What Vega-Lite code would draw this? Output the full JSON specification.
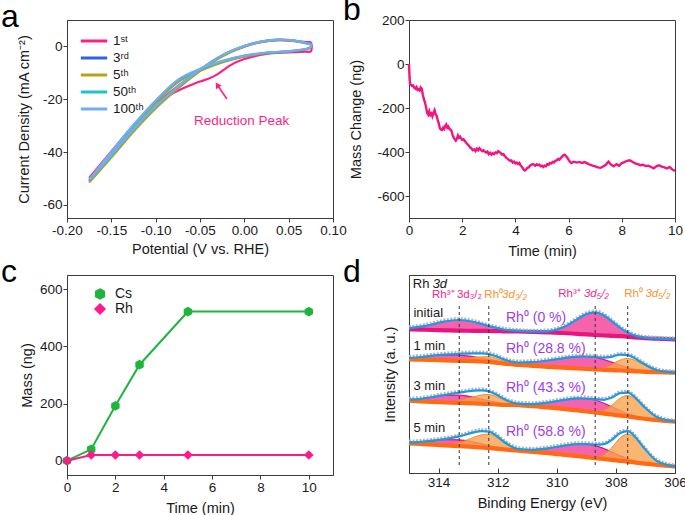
{
"$schema": "https://vega.github.io/schema/vega-lite/v6.json",
"padding": {"left": 0, "top": -7, "right": 2, "bottom": 0},
"background": "white",
"config": {
  "font": "Liberation Sans",
  "view": {"stroke": "#3c3c3c", "strokeWidth": 1},
  "axis": {"grid": false, "labelFont": "Liberation Sans", "titleFont": "Liberation Sans", "labelFontSize": 13.5, "titleFontSize": 14.5, "titleFontWeight": "normal", "labelColor": "#1a1a1a", "titleColor": "#1a1a1a", "tickColor": "#3c3c3c", "domainColor": "#3c3c3c", "tickSize": 4, "labelPadding": 1, "labelFlush": false, "labelOverlap": false},
  "title": {"font": "Liberation Sans", "fontSize": 32, "fontWeight": "normal", "anchor": "start", "frame": "group", "dx": -66, "offset": -14, "baseline": "alphabetic", "color": "#000"},
  "legend": {"labelFont": "Liberation Sans", "labelFontSize": 13.5, "labelColor": "#1a1a1a", "padding": 0}
},
"datasets": {
  "cv": [
    {"c":"1ˢᵗ","i":1,"v":-0.175,"j":-49.8},{"c":"1ˢᵗ","i":2,"v":-0.15,"j":-40.5},{"c":"1ˢᵗ","i":3,"v":-0.125,"j":-30.8},{"c":"1ˢᵗ","i":4,"v":-0.1,"j":-22.0},{"c":"1ˢᵗ","i":5,"v":-0.075,"j":-15.0},{"c":"1ˢᵗ","i":6,"v":-0.05,"j":-8.8},{"c":"1ˢᵗ","i":7,"v":-0.025,"j":-3.5},{"c":"1ˢᵗ","i":8,"v":0,"j":0.0},{"c":"1ˢᵗ","i":9,"v":0.02,"j":1.7},{"c":"1ˢᵗ","i":10,"v":0.038,"j":2.4},{"c":"1ˢᵗ","i":11,"v":0.055,"j":2.1},{"c":"1ˢᵗ","i":12,"v":0.07,"j":1.6},{"c":"1ˢᵗ","i":13,"v":0.075,"j":1.5},
    {"c":"1ˢᵗ","i":14,"v":0.075,"j":-1.9},{"c":"1ˢᵗ","i":15,"v":0.07,"j":-2.0},{"c":"1ˢᵗ","i":16,"v":0.05,"j":-2.3},{"c":"1ˢᵗ","i":17,"v":0.025,"j":-2.8},{"c":"1ˢᵗ","i":18,"v":0,"j":-4.8},{"c":"1ˢᵗ","i":19,"v":-0.015,"j":-7.0},{"c":"1ˢᵗ","i":20,"v":-0.03,"j":-10.5},{"c":"1ˢᵗ","i":21,"v":-0.04,"j":-12.2},{"c":"1ˢᵗ","i":22,"v":-0.05,"j":-13.3},{"c":"1ˢᵗ","i":23,"v":-0.06,"j":-14.6},{"c":"1ˢᵗ","i":24,"v":-0.075,"j":-16.8},{"c":"1ˢᵗ","i":25,"v":-0.1,"j":-21.6},{"c":"1ˢᵗ","i":26,"v":-0.125,"j":-30.0},{"c":"1ˢᵗ","i":27,"v":-0.15,"j":-39.8},{"c":"1ˢᵗ","i":28,"v":-0.175,"j":-49.8},
    {"c":"3ʳᵈ","i":1,"v":-0.175,"j":-51.0},{"c":"3ʳᵈ","i":2,"v":-0.15,"j":-41.6},{"c":"3ʳᵈ","i":3,"v":-0.125,"j":-31.8},{"c":"3ʳᵈ","i":4,"v":-0.1,"j":-23.0},{"c":"3ʳᵈ","i":5,"v":-0.075,"j":-15.6},{"c":"3ʳᵈ","i":6,"v":-0.05,"j":-9.0},{"c":"3ʳᵈ","i":7,"v":-0.025,"j":-3.5},{"c":"3ʳᵈ","i":8,"v":0,"j":0.0},{"c":"3ʳᵈ","i":9,"v":0.02,"j":1.8},{"c":"3ʳᵈ","i":10,"v":0.038,"j":2.5},{"c":"3ʳᵈ","i":11,"v":0.055,"j":2.2},{"c":"3ʳᵈ","i":12,"v":0.07,"j":1.2},{"c":"3ʳᵈ","i":13,"v":0.075,"j":0.7},
    {"c":"3ʳᵈ","i":14,"v":0.075,"j":-0.3},{"c":"3ʳᵈ","i":15,"v":0.07,"j":-1.0},{"c":"3ʳᵈ","i":16,"v":0.05,"j":-1.9},{"c":"3ʳᵈ","i":17,"v":0.025,"j":-2.5},{"c":"3ʳᵈ","i":18,"v":0,"j":-3.7},{"c":"3ʳᵈ","i":19,"v":-0.025,"j":-5.8},{"c":"3ʳᵈ","i":20,"v":-0.05,"j":-8.9},{"c":"3ʳᵈ","i":21,"v":-0.075,"j":-13.2},{"c":"3ʳᵈ","i":22,"v":-0.1,"j":-21.0},{"c":"3ʳᵈ","i":23,"v":-0.125,"j":-30.2},{"c":"3ʳᵈ","i":24,"v":-0.15,"j":-40.4},{"c":"3ʳᵈ","i":25,"v":-0.175,"j":-51.0},
    {"c":"5ᵗʰ","i":1,"v":-0.175,"j":-51.6},{"c":"5ᵗʰ","i":2,"v":-0.15,"j":-42.1},{"c":"5ᵗʰ","i":3,"v":-0.125,"j":-32.3},{"c":"5ᵗʰ","i":4,"v":-0.1,"j":-23.5},{"c":"5ᵗʰ","i":5,"v":-0.075,"j":-16.0},{"c":"5ᵗʰ","i":6,"v":-0.05,"j":-9.4},{"c":"5ᵗʰ","i":7,"v":-0.025,"j":-3.8},{"c":"5ᵗʰ","i":8,"v":0,"j":-0.1},{"c":"5ᵗʰ","i":9,"v":0.02,"j":1.7},{"c":"5ᵗʰ","i":10,"v":0.038,"j":2.4},{"c":"5ᵗʰ","i":11,"v":0.055,"j":2.1},{"c":"5ᵗʰ","i":12,"v":0.07,"j":1.1},{"c":"5ᵗʰ","i":13,"v":0.075,"j":0.6},
    {"c":"5ᵗʰ","i":14,"v":0.075,"j":-0.4},{"c":"5ᵗʰ","i":15,"v":0.07,"j":-1.1},{"c":"5ᵗʰ","i":16,"v":0.05,"j":-2.0},{"c":"5ᵗʰ","i":17,"v":0.025,"j":-2.6},{"c":"5ᵗʰ","i":18,"v":0,"j":-3.9},{"c":"5ᵗʰ","i":19,"v":-0.025,"j":-6.1},{"c":"5ᵗʰ","i":20,"v":-0.05,"j":-9.3},{"c":"5ᵗʰ","i":21,"v":-0.075,"j":-13.6},{"c":"5ᵗʰ","i":22,"v":-0.1,"j":-21.5},{"c":"5ᵗʰ","i":23,"v":-0.125,"j":-30.7},{"c":"5ᵗʰ","i":24,"v":-0.15,"j":-41.0},{"c":"5ᵗʰ","i":25,"v":-0.175,"j":-51.6},
    {"c":"50ᵗʰ","i":1,"v":-0.175,"j":-50.8},{"c":"50ᵗʰ","i":2,"v":-0.15,"j":-41.4},{"c":"50ᵗʰ","i":3,"v":-0.125,"j":-31.6},{"c":"50ᵗʰ","i":4,"v":-0.1,"j":-22.8},{"c":"50ᵗʰ","i":5,"v":-0.075,"j":-15.4},{"c":"50ᵗʰ","i":6,"v":-0.05,"j":-8.8},{"c":"50ᵗʰ","i":7,"v":-0.025,"j":-3.4},{"c":"50ᵗʰ","i":8,"v":0,"j":0.1},{"c":"50ᵗʰ","i":9,"v":0.02,"j":1.9},{"c":"50ᵗʰ","i":10,"v":0.038,"j":2.6},{"c":"50ᵗʰ","i":11,"v":0.055,"j":2.3},{"c":"50ᵗʰ","i":12,"v":0.07,"j":1.3},{"c":"50ᵗʰ","i":13,"v":0.075,"j":0.8},
    {"c":"50ᵗʰ","i":14,"v":0.075,"j":-0.3},{"c":"50ᵗʰ","i":15,"v":0.07,"j":-1.0},{"c":"50ᵗʰ","i":16,"v":0.05,"j":-1.9},{"c":"50ᵗʰ","i":17,"v":0.025,"j":-2.4},{"c":"50ᵗʰ","i":18,"v":0,"j":-3.6},{"c":"50ᵗʰ","i":19,"v":-0.025,"j":-5.7},{"c":"50ᵗʰ","i":20,"v":-0.05,"j":-8.7},{"c":"50ᵗʰ","i":21,"v":-0.075,"j":-13.0},{"c":"50ᵗʰ","i":22,"v":-0.1,"j":-20.8},{"c":"50ᵗʰ","i":23,"v":-0.125,"j":-30.0},{"c":"50ᵗʰ","i":24,"v":-0.15,"j":-40.2},{"c":"50ᵗʰ","i":25,"v":-0.175,"j":-50.8},
    {"c":"100ᵗʰ","i":1,"v":-0.175,"j":-50.5},{"c":"100ᵗʰ","i":2,"v":-0.15,"j":-41.2},{"c":"100ᵗʰ","i":3,"v":-0.125,"j":-31.4},{"c":"100ᵗʰ","i":4,"v":-0.1,"j":-22.6},{"c":"100ᵗʰ","i":5,"v":-0.075,"j":-15.2},{"c":"100ᵗʰ","i":6,"v":-0.05,"j":-8.7},{"c":"100ᵗʰ","i":7,"v":-0.025,"j":-3.3},{"c":"100ᵗʰ","i":8,"v":0,"j":0.2},{"c":"100ᵗʰ","i":9,"v":0.02,"j":1.9},{"c":"100ᵗʰ","i":10,"v":0.038,"j":2.6},{"c":"100ᵗʰ","i":11,"v":0.055,"j":2.3},{"c":"100ᵗʰ","i":12,"v":0.07,"j":1.3},{"c":"100ᵗʰ","i":13,"v":0.075,"j":0.8},
    {"c":"100ᵗʰ","i":14,"v":0.075,"j":-0.2},{"c":"100ᵗʰ","i":15,"v":0.07,"j":-0.9},{"c":"100ᵗʰ","i":16,"v":0.05,"j":-1.8},{"c":"100ᵗʰ","i":17,"v":0.025,"j":-2.3},{"c":"100ᵗʰ","i":18,"v":0,"j":-3.5},{"c":"100ᵗʰ","i":19,"v":-0.025,"j":-5.5},{"c":"100ᵗʰ","i":20,"v":-0.05,"j":-8.5},{"c":"100ᵗʰ","i":21,"v":-0.075,"j":-12.7},{"c":"100ᵗʰ","i":22,"v":-0.1,"j":-20.5},{"c":"100ᵗʰ","i":23,"v":-0.125,"j":-29.7},{"c":"100ᵗʰ","i":24,"v":-0.15,"j":-39.9},{"c":"100ᵗʰ","i":25,"v":-0.175,"j":-50.5}
  ],
  "arrow": [{"x1": -0.0196, "y1": -19.9, "x2": -0.0305, "y2": -14.6}],
  "qcm": [
    {"t":0,"m":0},{"t":0.02,"m":-60},{"t":0.04,"m":-90},{"t":0.08,"m":-95},{"t":0.12,"m":-100},{"t":0.16,"m":-98},{"t":0.2,"m":-108},{"t":0.24,"m":-112},{"t":0.28,"m":-105},{"t":0.32,"m":-118},{"t":0.36,"m":-115},{"t":0.4,"m":-120},{"t":0.44,"m":-106},{"t":0.48,"m":-112},{"t":0.52,"m":-140},{"t":0.56,"m":-160},{"t":0.6,"m":-175},{"t":0.64,"m":-195},{"t":0.68,"m":-222},{"t":0.72,"m":-230},{"t":0.76,"m":-215},{"t":0.8,"m":-232},{"t":0.84,"m":-225},{"t":0.88,"m":-238},{"t":0.92,"m":-222},{"t":0.96,"m":-210},{"t":1.0,"m":-228},{"t":1.04,"m":-236},{"t":1.08,"m":-255},{"t":1.12,"m":-270},{"t":1.16,"m":-292},{"t":1.2,"m":-298},{"t":1.24,"m":-300},{"t":1.28,"m":-290},{"t":1.32,"m":-296},{"t":1.36,"m":-282},{"t":1.4,"m":-275},{"t":1.44,"m":-290},{"t":1.48,"m":-285},{"t":1.52,"m":-296},{"t":1.56,"m":-298},{"t":1.6,"m":-305},{"t":1.64,"m":-322},{"t":1.68,"m":-335},{"t":1.72,"m":-342},{"t":1.76,"m":-348},{"t":1.8,"m":-340},{"t":1.84,"m":-325},{"t":1.88,"m":-335},{"t":1.92,"m":-330},{"t":1.96,"m":-338},{"t":2.0,"m":-345},{"t":2.05,"m":-342},{"t":2.1,"m":-350},{"t":2.15,"m":-358},{"t":2.2,"m":-365},{"t":2.25,"m":-372},{"t":2.3,"m":-380},{"t":2.35,"m":-384},{"t":2.4,"m":-392},{"t":2.45,"m":-388},{"t":2.5,"m":-396},{"t":2.55,"m":-385},{"t":2.6,"m":-392},{"t":2.65,"m":-383},{"t":2.7,"m":-390},{"t":2.75,"m":-396},{"t":2.8,"m":-392},{"t":2.85,"m":-398},{"t":2.9,"m":-402},{"t":2.95,"m":-398},{"t":3.0,"m":-410},{"t":3.05,"m":-404},{"t":3.1,"m":-412},{"t":3.15,"m":-406},{"t":3.2,"m":-410},{"t":3.25,"m":-402},{"t":3.3,"m":-405},{"t":3.35,"m":-396},{"t":3.4,"m":-400},{"t":3.45,"m":-405},{"t":3.5,"m":-412},{"t":3.55,"m":-410},{"t":3.6,"m":-418},{"t":3.65,"m":-426},{"t":3.7,"m":-430},{"t":3.75,"m":-436},{"t":3.8,"m":-440},{"t":3.85,"m":-438},{"t":3.9,"m":-448},{"t":3.95,"m":-444},{"t":4.0,"m":-452},{"t":4.05,"m":-448},{"t":4.1,"m":-455},{"t":4.15,"m":-450},{"t":4.2,"m":-462},{"t":4.25,"m":-468},{"t":4.3,"m":-478},{"t":4.35,"m":-484},{"t":4.4,"m":-480},{"t":4.45,"m":-472},{"t":4.5,"m":-470},{"t":4.55,"m":-462},{"t":4.6,"m":-458},{"t":4.65,"m":-455},{"t":4.7,"m":-458},{"t":4.75,"m":-462},{"t":4.8,"m":-456},{"t":4.85,"m":-460},{"t":4.9,"m":-458},{"t":4.95,"m":-465},{"t":5.0,"m":-462},{"t":5.05,"m":-468},{"t":5.1,"m":-462},{"t":5.15,"m":-465},{"t":5.2,"m":-455},{"t":5.25,"m":-458},{"t":5.3,"m":-450},{"t":5.35,"m":-452},{"t":5.4,"m":-445},{"t":5.45,"m":-448},{"t":5.5,"m":-440},{"t":5.55,"m":-438},{"t":5.6,"m":-432},{"t":5.65,"m":-435},{"t":5.7,"m":-428},{"t":5.75,"m":-422},{"t":5.8,"m":-415},{"t":5.85,"m":-412},{"t":5.9,"m":-418},{"t":5.95,"m":-426},{"t":6.0,"m":-436},{"t":6.05,"m":-444},{"t":6.1,"m":-450},{"t":6.2,"m":-444},{"t":6.3,"m":-448},{"t":6.4,"m":-445},{"t":6.5,"m":-450},{"t":6.6,"m":-446},{"t":6.7,"m":-452},{"t":6.8,"m":-458},{"t":6.9,"m":-462},{"t":7.0,"m":-465},{"t":7.1,"m":-470},{"t":7.2,"m":-472},{"t":7.3,"m":-466},{"t":7.4,"m":-458},{"t":7.45,"m":-450},{"t":7.5,"m":-444},{"t":7.55,"m":-452},{"t":7.6,"m":-458},{"t":7.7,"m":-465},{"t":7.8,"m":-455},{"t":7.9,"m":-462},{"t":8.0,"m":-450},{"t":8.1,"m":-446},{"t":8.2,"m":-440},{"t":8.3,"m":-438},{"t":8.4,"m":-444},{"t":8.5,"m":-452},{"t":8.6,"m":-455},{"t":8.7,"m":-460},{"t":8.8,"m":-458},{"t":8.9,"m":-464},{"t":9.0,"m":-462},{"t":9.1,"m":-468},{"t":9.2,"m":-474},{"t":9.3,"m":-465},{"t":9.4,"m":-460},{"t":9.5,"m":-466},{"t":9.6,"m":-470},{"t":9.7,"m":-475},{"t":9.8,"m":-468},{"t":9.9,"m":-480},{"t":10.0,"m":-486}
  ],
  "mass": [
    {"el":"Cs","t":0,"m":0},{"el":"Cs","t":1,"m":40},{"el":"Cs","t":2,"m":192},{"el":"Cs","t":3,"m":336},{"el":"Cs","t":5,"m":522},{"el":"Cs","t":10,"m":522},
    {"el":"Rh","t":0,"m":0},{"el":"Rh","t":1,"m":20},{"el":"Rh","t":2,"m":20},{"el":"Rh","t":3,"m":20},{"el":"Rh","t":5,"m":20},{"el":"Rh","t":10,"m":20}
  ],
  "xps": [
    {"s":"initial","x":315,"bg":143.7,"pk":144.8,"og":143.7,"env":144.8},{"s":"initial","x":314.6,"bg":143.4,"pk":146.3,"og":143.4,"env":146.3},{"s":"initial","x":314.2,"bg":143.0,"pk":148.7,"og":143.0,"env":148.7},{"s":"initial","x":313.8,"bg":142.7,"pk":151.5,"og":142.7,"env":151.5},{"s":"initial","x":313.3,"bg":142.3,"pk":153.0,"og":142.3,"env":153.0},{"s":"initial","x":312.8,"bg":142.2,"pk":151.0,"og":142.2,"env":151.0},{"s":"initial","x":312.55,"bg":142.1,"pk":149.0,"og":142.1,"env":149.0},{"s":"initial","x":312.3,"bg":142.0,"pk":146.9,"og":142.0,"env":146.9},{"s":"initial","x":312.05,"bg":141.9,"pk":145.1,"og":141.9,"env":145.1},{"s":"initial","x":311.8,"bg":141.7,"pk":143.5,"og":141.7,"env":143.5},{"s":"initial","x":311.3,"bg":141.5,"pk":142.0,"og":141.5,"env":142.0},{"s":"initial","x":310.8,"bg":141.1,"pk":141.3,"og":141.1,"env":141.3},{"s":"initial","x":310.3,"bg":140.6,"pk":141.7,"og":140.6,"env":141.7},{"s":"initial","x":309.8,"bg":140.0,"pk":145.4,"og":140.0,"env":145.4},{"s":"initial","x":309.3,"bg":139.1,"pk":153.9,"og":139.1,"env":153.9},{"s":"initial","x":309.0,"bg":138.6,"pk":159.0,"og":138.6,"env":159.0},{"s":"initial","x":308.7,"bg":138.0,"pk":160.7,"og":138.0,"env":160.7},{"s":"initial","x":308.4,"bg":137.5,"pk":157.5,"og":137.5,"env":157.5},{"s":"initial","x":308.15,"bg":137.2,"pk":152.1,"og":137.2,"env":152.1},{"s":"initial","x":307.85,"bg":136.8,"pk":145.1,"og":136.8,"env":145.1},{"s":"initial","x":307.6,"bg":136.3,"pk":140.5,"og":136.3,"env":140.5},{"s":"initial","x":307.35,"bg":135.6,"pk":137.4,"og":135.6,"env":137.4},{"s":"initial","x":307.1,"bg":135.0,"pk":135.6,"og":135.0,"env":135.6},{"s":"initial","x":306.6,"bg":134.3,"pk":134.3,"og":134.3,"env":134.3},{"s":"initial","x":306,"bg":133.7,"pk":133.7,"og":133.7,"env":133.7},
    {"s":"1 min","x":315,"bg":113.7,"pk":115.1,"og":113.7,"env":115.1},{"s":"1 min","x":314.6,"bg":113.3,"pk":116.0,"og":113.3,"env":116.0},{"s":"1 min","x":314.2,"bg":113.0,"pk":117.3,"og":113.0,"env":117.3},{"s":"1 min","x":313.8,"bg":112.6,"pk":118.1,"og":112.8,"env":118.3},{"s":"1 min","x":313.3,"bg":112.2,"pk":117.9,"og":113.5,"env":119.2},{"s":"1 min","x":312.8,"bg":111.8,"pk":116.1,"og":115.4,"env":119.7},{"s":"1 min","x":312.55,"bg":111.5,"pk":114.9,"og":116.2,"env":119.6},{"s":"1 min","x":312.3,"bg":111.2,"pk":113.8,"og":116.3,"env":118.9},{"s":"1 min","x":312.05,"bg":110.3,"pk":112.3,"og":114.6,"env":116.6},{"s":"1 min","x":311.8,"bg":109.4,"pk":111.1,"og":111.9,"env":113.6},{"s":"1 min","x":311.3,"bg":108.2,"pk":110.2,"og":108.5,"env":110.5},{"s":"1 min","x":310.8,"bg":107.2,"pk":110.9,"og":107.2,"env":110.9},{"s":"1 min","x":310.3,"bg":106.2,"pk":112.5,"og":106.2,"env":112.5},{"s":"1 min","x":309.8,"bg":105.3,"pk":114.7,"og":105.3,"env":114.7},{"s":"1 min","x":309.3,"bg":104.5,"pk":116.3,"og":104.5,"env":116.3},{"s":"1 min","x":309.0,"bg":104.0,"pk":116.5,"og":104.0,"env":116.5},{"s":"1 min","x":308.7,"bg":103.5,"pk":115.6,"og":103.9,"env":116.0},{"s":"1 min","x":308.4,"bg":103.1,"pk":113.4,"og":105.1,"env":115.4},{"s":"1 min","x":308.15,"bg":102.8,"pk":110.9,"og":108.1,"env":116.2},{"s":"1 min","x":307.85,"bg":102.5,"pk":107.8,"og":113.0,"env":118.3},{"s":"1 min","x":307.6,"bg":102.1,"pk":105.4,"og":114.6,"env":117.9},{"s":"1 min","x":307.35,"bg":101.7,"pk":103.6,"og":112.7,"env":114.6},{"s":"1 min","x":307.1,"bg":101.3,"pk":102.3,"og":108.9,"env":109.9},{"s":"1 min","x":306.6,"bg":100.8,"pk":101.0,"og":102.5,"env":102.7},{"s":"1 min","x":306,"bg":100.3,"pk":100.3,"og":100.4,"env":100.4},
    {"s":"3 min","x":315,"bg":72.3,"pk":73.4,"og":72.3,"env":73.4},{"s":"3 min","x":314.6,"bg":71.6,"pk":74.2,"og":71.6,"env":74.2},{"s":"3 min","x":314.2,"bg":71.0,"pk":75.9,"og":71.1,"env":76.0},{"s":"3 min","x":313.8,"bg":70.5,"pk":77.6,"og":70.9,"env":78.0},{"s":"3 min","x":313.3,"bg":70.0,"pk":77.9,"og":72.4,"env":80.3},{"s":"3 min","x":312.8,"bg":69.6,"pk":75.6,"og":76.3,"env":82.3},{"s":"3 min","x":312.55,"bg":69.3,"pk":73.9,"og":78.0,"env":82.6},{"s":"3 min","x":312.3,"bg":69.0,"pk":72.1,"og":78.5,"env":81.6},{"s":"3 min","x":312.05,"bg":68.6,"pk":70.5,"og":76.6,"env":78.5},{"s":"3 min","x":311.8,"bg":68.2,"pk":69.5,"og":72.9,"env":74.2},{"s":"3 min","x":311.3,"bg":67.8,"pk":68.8,"og":68.4,"env":69.4},{"s":"3 min","x":310.8,"bg":66.8,"pk":68.9,"og":66.8,"env":68.9},{"s":"3 min","x":310.3,"bg":65.5,"pk":70.4,"og":65.5,"env":70.4},{"s":"3 min","x":309.8,"bg":64.2,"pk":72.9,"og":64.2,"env":72.9},{"s":"3 min","x":309.3,"bg":62.6,"pk":74.6,"og":62.6,"env":74.6},{"s":"3 min","x":309.0,"bg":61.5,"pk":74.4,"og":61.6,"env":74.5},{"s":"3 min","x":308.7,"bg":60.5,"pk":73.0,"og":61.2,"env":73.7},{"s":"3 min","x":308.4,"bg":59.4,"pk":69.8,"og":62.8,"env":73.2},{"s":"3 min","x":308.15,"bg":58.5,"pk":66.4,"og":67.4,"env":75.3},{"s":"3 min","x":307.85,"bg":57.4,"pk":62.3,"og":75.0,"env":79.9},{"s":"3 min","x":307.6,"bg":56.5,"pk":59.4,"og":77.5,"env":80.4},{"s":"3 min","x":307.35,"bg":55.5,"pk":57.0,"og":74.0,"env":75.5},{"s":"3 min","x":307.1,"bg":54.5,"pk":55.2,"og":67.2,"env":67.9},{"s":"3 min","x":306.6,"bg":52.8,"pk":52.9,"og":55.6,"env":55.7},{"s":"3 min","x":306,"bg":51.3,"pk":51.3,"og":51.4,"env":51.4},
    {"s":"5 min","x":315,"bg":29.7,"pk":30.6,"og":29.7,"env":30.6},{"s":"5 min","x":314.6,"bg":29.0,"pk":31.1,"og":29.0,"env":31.1},{"s":"5 min","x":314.2,"bg":28.3,"pk":32.2,"og":28.4,"env":32.3},{"s":"5 min","x":313.8,"bg":27.6,"pk":33.3,"og":28.2,"env":33.9},{"s":"5 min","x":313.3,"bg":26.8,"pk":33.2,"og":30.2,"env":36.6},{"s":"5 min","x":312.8,"bg":26.0,"pk":30.9,"og":35.8,"env":40.7},{"s":"5 min","x":312.55,"bg":25.5,"pk":29.2,"og":38.2,"env":41.9},{"s":"5 min","x":312.3,"bg":25.0,"pk":27.5,"og":38.8,"env":41.3},{"s":"5 min","x":312.05,"bg":24.3,"pk":25.9,"og":35.9,"env":37.5},{"s":"5 min","x":311.8,"bg":23.6,"pk":24.7,"og":30.4,"env":31.5},{"s":"5 min","x":311.3,"bg":22.3,"pk":23.2,"og":23.1,"env":24.0},{"s":"5 min","x":310.8,"bg":21.1,"pk":23.2,"og":21.1,"env":23.2},{"s":"5 min","x":310.3,"bg":19.8,"pk":24.7,"og":19.8,"env":24.7},{"s":"5 min","x":309.8,"bg":18.4,"pk":27.1,"og":18.4,"env":27.1},{"s":"5 min","x":309.3,"bg":16.9,"pk":28.9,"og":16.9,"env":28.9},{"s":"5 min","x":309.0,"bg":15.9,"pk":28.8,"og":16.0,"env":28.9},{"s":"5 min","x":308.7,"bg":14.9,"pk":27.4,"og":15.8,"env":28.3},{"s":"5 min","x":308.4,"bg":14.0,"pk":24.4,"og":18.5,"env":28.9},{"s":"5 min","x":308.15,"bg":13.2,"pk":21.1,"og":24.9,"env":32.8},{"s":"5 min","x":307.85,"bg":12.2,"pk":17.1,"og":35.2,"env":40.1},{"s":"5 min","x":307.6,"bg":11.4,"pk":14.3,"og":38.9,"env":41.8},{"s":"5 min","x":307.35,"bg":10.5,"pk":12.0,"og":34.8,"env":36.3},{"s":"5 min","x":307.1,"bg":9.6,"pk":10.3,"og":26.3,"env":27.0},{"s":"5 min","x":306.6,"bg":8.0,"pk":8.1,"og":11.7,"env":11.8},{"s":"5 min","x":306,"bg":6.5,"pk":6.5,"og":6.7,"env":6.7}
  ],
  "peaks": [{"e":313.3},{"e":312.3},{"e":308.7},{"e":307.6}],
  "slabels": [{"x":314.85,"y":160.5,"t":"initial"},{"x":314.85,"y":127,"t":"1 min"},{"x":314.85,"y":87,"t":"3 min"},{"x":314.85,"y":45,"t":"5 min"}],
  "fractions": [{"x":311.72,"y":155.5,"t":"Rh⁰ (0 %)"},{"x":311.72,"y":124,"t":"Rh⁰ (28.8 %)"},{"x":311.72,"y":85,"t":"Rh⁰ (43.3 %)"},{"x":311.72,"y":41.5,"t":"Rh⁰ (58.8 %)"}],
  "plabels": [{"x":314.22,"y":178,"g":"Rh3+","t":"Rh³⁺"},{"x":313.38,"y":178,"g":"Rh3+","t":"3d₃/₂"},{"x":312.45,"y":178,"g":"Rh0","t":"Rh⁰"},{"x":309.95,"y":179,"g":"Rh3+","t":"Rh³⁺"},{"x":307.72,"y":179,"g":"Rh0","t":"Rh⁰"}],
  "pitalic": [{"x":311.85,"y":178,"g":"Rh0","t":"3d₃/₂"},{"x":309.08,"y":179,"g":"Rh3+","t":"3d₅/₂"},{"x":307.0,"y":179,"g":"Rh0","t":"3d₅/₂"}]
},
"columns": 2,
"spacing": {"row": 57, "column": 76},
"bounds": "flush",
"resolve": {"scale": {"color": "independent", "shape": "independent", "fill": "independent", "x": "independent", "y": "independent"}, "legend": {"color": "independent", "shape": "independent"}, "axis": {"x": "independent", "y": "independent"}},
"concat": [
      {
        "width": 266, "height": 198,
        "title": {"text": "a"},
        "layer": [
          {
            "data": {"name": "cv"},
            "mark": {"type": "line", "strokeWidth": 2.2, "interpolate": "catmull-rom"},
            "encoding": {
              "x": {"field": "v", "type": "quantitative", "scale": {"domain": [-0.2, 0.1], "nice": false, "zero": false},
                    "axis": {"title": "Potential (V vs. RHE)", "values": [-0.2, -0.15, -0.1, -0.05, 0, 0.05, 0.1], "format": ".2f", "labelExpr": "replace(datum.label, '−', '-')", "titlePadding": 6}},
              "y": {"field": "j", "type": "quantitative", "scale": {"domain": [-65, 10], "nice": false, "zero": false},
                    "axis": {"title": "Current Density (mA cm⁻²)", "values": [0, -20, -40, -60], "labelExpr": "replace(datum.label, '−', '-')", "titlePadding": 11}},
              "color": {"field": "c", "type": "nominal", "sort": null,
                        "scale": {"domain": ["1ˢᵗ", "3ʳᵈ", "5ᵗʰ", "50ᵗʰ", "100ᵗʰ"], "range": ["#ff1f84", "#2a66e0", "#b9a215", "#1fc4c8", "#74abf2"]},
                        "legend": {"title": null, "orient": "none", "legendX": 17, "legendY": 11, "symbolType": "M-1.55,0H1.55", "symbolSize": 289, "symbolStrokeWidth": 3, "rowPadding": 0, "labelOffset": 9, "labelFontSize": 13.5}},
              "order": {"field": "i", "type": "quantitative"}
            }
          },
          {
            "data": {"name": "arrow"},
            "mark": {"type": "rule", "color": "#ff1f84", "strokeWidth": 1.6},
            "encoding": {"x": {"field": "x1", "type": "quantitative"}, "y": {"field": "y1", "type": "quantitative"}, "x2": {"field": "x2"}, "y2": {"field": "y2"}}
          },
          {
            "data": {"name": "arrow"},
            "mark": {"type": "point", "shape": "triangle-up", "filled": true, "size": 45, "angle": -33.6, "color": "#ff1f84", "opacity": 1},
            "encoding": {"x": {"field": "x2", "type": "quantitative"}, "y": {"field": "y2", "type": "quantitative"}}
          },
          {
            "data": {"values": [{"v": -0.003, "j": -28.4, "t": "Reduction Peak"}]},
            "mark": {"type": "text", "color": "#ff1f84", "fontSize": 13.5, "font": "Liberation Sans"},
            "encoding": {"x": {"field": "v", "type": "quantitative"}, "y": {"field": "j", "type": "quantitative"}, "text": {"field": "t"}}
          }
        ]
      },
      {
        "width": 266, "height": 198,
        "title": {"text": "b"},
        "data": {"name": "qcm"},
        "mark": {"type": "line", "color": "#f2157f", "strokeWidth": 2.4},
        "encoding": {
          "x": {"field": "t", "type": "quantitative", "scale": {"domain": [0, 10], "nice": false},
                "axis": {"title": "Time (min)", "values": [0, 2, 4, 6, 8, 10], "titlePadding": 8}},
          "y": {"field": "m", "type": "quantitative", "scale": {"domain": [-700, 200], "nice": false},
                "axis": {"title": "Mass Change (ng)", "values": [200, 0, -200, -400, -600], "labelExpr": "replace(datum.label, '−', '-')", "titlePadding": 13}}
        }
      },
      {
        "width": 266, "height": 200,
        "title": {"text": "c"},
        "data": {"name": "mass"},
        "layer": [
          {
            "mark": {"type": "line", "strokeWidth": 2},
            "encoding": {
              "x": {"field": "t", "type": "quantitative", "scale": {"domain": [0, 11], "nice": false},
                    "axis": {"title": "Time (min)", "values": [0, 2, 4, 6, 8, 10], "titlePadding": 8}},
              "y": {"field": "m", "type": "quantitative", "scale": {"domain": [-50, 650], "nice": false},
                    "axis": {"title": "Mass (ng)", "values": [0, 100, 200, 300, 400, 500, 600], "titlePadding": 5}},
              "color": {"field": "el", "type": "nominal", "scale": {"domain": ["Cs", "Rh"], "range": ["#1db53c", "#ff1a8c"]},
                        "legend": {"title": null, "orient": "none", "legendX": 26, "legendY": 12, "symbolSize": 100, "labelFontSize": 14, "rowPadding": -2, "labelOffset": 8}}
            }
          },
          {
            "mark": {"type": "point", "filled": true, "size": 95, "opacity": 1},
            "encoding": {
              "x": {"field": "t", "type": "quantitative"},
              "y": {"field": "m", "type": "quantitative"},
              "color": {"field": "el", "type": "nominal", "legend": {"title": null, "orient": "none", "legendX": 26, "legendY": 12, "symbolSize": 100, "labelFontSize": 14, "rowPadding": -2, "labelOffset": 8}},
              "shape": {"field": "el", "type": "nominal", "scale": {"domain": ["Cs", "Rh"], "range": ["M0,-1L0.866,-0.5L0.866,0.5L0,1L-0.866,0.5L-0.866,-0.5Z", "diamond"]}, "legend": {"title": null, "orient": "none", "legendX": 26, "legendY": 12, "symbolSize": 100, "labelFontSize": 14, "rowPadding": -2, "labelOffset": 8}}
            }
          }
        ]
      },
      {
        "width": 266, "height": 198,
        "title": {"text": "d"},
        "layer": [
          {
            "data": {"name": "xps"},
            "mark": {"type": "area", "color": "#f2489c", "opacity": 0.85, "interpolate": "monotone", "line": {"color": "#e3137b", "strokeWidth": 1.2}},
            "encoding": {
              "x": {"field": "x", "type": "quantitative", "scale": {"domain": [315, 306], "nice": false, "zero": false},
                    "axis": {"title": "Binding Energy (eV)", "values": [314, 312, 310, 308, 306], "tickSize": -5, "labelPadding": 7, "titlePadding": 8}},
              "y": {"field": "pk", "type": "quantitative", "scale": {"domain": [0, 198], "nice": false},
                    "axis": {"title": "Intensity (a. u.)", "labels": false, "ticks": false, "domain": true, "titlePadding": 12}},
              "y2": {"field": "bg"},
              "detail": {"field": "s"}
            }
          },
          {
            "data": {"name": "xps"},
            "transform": [{"filter": "datum.s != 'initial'"}],
            "mark": {"type": "area", "color": "#f9a24f", "opacity": 0.8, "interpolate": "monotone", "line": {"color": "#f58d22", "strokeWidth": 1}},
            "encoding": {
              "x": {"field": "x", "type": "quantitative"},
              "y": {"field": "og", "type": "quantitative"},
              "y2": {"field": "bg"},
              "detail": {"field": "s"}
            }
          },
          {
            "data": {"name": "xps"},
            "mark": {"type": "line", "strokeWidth": 4.2, "interpolate": "monotone"},
            "encoding": {
              "x": {"field": "x", "type": "quantitative"},
              "y": {"field": "bg", "type": "quantitative"},
              "color": {"field": "s", "type": "nominal", "scale": {"domain": ["initial", "1 min", "3 min", "5 min"], "range": ["#e8157f", "#ff6a13", "#ff6a13", "#ff6a13"]}, "legend": null}
            }
          },
          {
            "data": {"name": "xps"},
            "mark": {"type": "line", "strokeWidth": 2.6, "color": "#b4b4b4", "yOffset": -1.6, "strokeDash": [2, 1.5], "interpolate": "monotone"},
            "encoding": {
              "x": {"field": "x", "type": "quantitative"},
              "y": {"field": "env", "type": "quantitative"},
              "detail": {"field": "s"}
            }
          },
          {
            "data": {"name": "xps"},
            "mark": {"type": "line", "strokeWidth": 2.2, "color": "#1b9ae8", "interpolate": "monotone"},
            "encoding": {
              "x": {"field": "x", "type": "quantitative"},
              "y": {"field": "env", "type": "quantitative"},
              "detail": {"field": "s"}
            }
          },
          {
            "data": {"name": "peaks"},
            "mark": {"type": "rule", "color": "#333", "strokeWidth": 1, "strokeDash": [3, 3]},
            "encoding": {"x": {"field": "e", "type": "quantitative"}, "y": {"datum": 8}, "y2": {"datum": 170}}
          },
          {
            "data": {"name": "slabels"},
            "mark": {"type": "text", "align": "left", "baseline": "middle", "fontSize": 13, "color": "#1a1a1a", "font": "Liberation Sans"},
            "encoding": {"x": {"field": "x", "type": "quantitative"}, "y": {"field": "y", "type": "quantitative"}, "text": {"field": "t"}}
          },
          {
            "data": {"name": "fractions"},
            "mark": {"type": "text", "align": "left", "baseline": "middle", "fontSize": 14, "color": "#9d3cf0", "font": "Liberation Sans"},
            "encoding": {"x": {"field": "x", "type": "quantitative"}, "y": {"field": "y", "type": "quantitative"}, "text": {"field": "t"}}
          },
          {
            "data": {"values": [{"x": 314.87, "y": 189, "t": "Rh"}]},
            "mark": {"type": "text", "align": "left", "baseline": "middle", "fontSize": 13, "color": "#1a1a1a", "font": "Liberation Sans"},
            "encoding": {"x": {"field": "x", "type": "quantitative"}, "y": {"field": "y", "type": "quantitative"}, "text": {"field": "t"}}
          },
          {
            "data": {"values": [{"x": 314.2, "y": 189, "t": "3d"}]},
            "mark": {"type": "text", "align": "left", "baseline": "middle", "fontSize": 13, "fontStyle": "italic", "color": "#1a1a1a", "font": "Liberation Sans"},
            "encoding": {"x": {"field": "x", "type": "quantitative"}, "y": {"field": "y", "type": "quantitative"}, "text": {"field": "t"}}
          },
          {
            "data": {"name": "plabels"},
            "mark": {"type": "text", "align": "left", "baseline": "middle", "fontSize": 11.5, "font": "Liberation Sans"},
            "encoding": {"x": {"field": "x", "type": "quantitative"}, "y": {"field": "y", "type": "quantitative"}, "text": {"field": "t"},
                         "fill": {"field": "g", "type": "nominal", "scale": {"domain": ["Rh3+", "Rh0"], "range": ["#f0288c", "#f7922e"]}, "legend": null}}
          },
          {
            "data": {"name": "pitalic"},
            "mark": {"type": "text", "align": "left", "baseline": "middle", "fontSize": 11.5, "fontStyle": "italic", "font": "Liberation Sans"},
            "encoding": {"x": {"field": "x", "type": "quantitative"}, "y": {"field": "y", "type": "quantitative"}, "text": {"field": "t"},
                         "fill": {"field": "g", "type": "nominal", "scale": {"domain": ["Rh3+", "Rh0"], "range": ["#f0288c", "#f7922e"]}, "legend": null}}
          }
        ]
      }
]
}
